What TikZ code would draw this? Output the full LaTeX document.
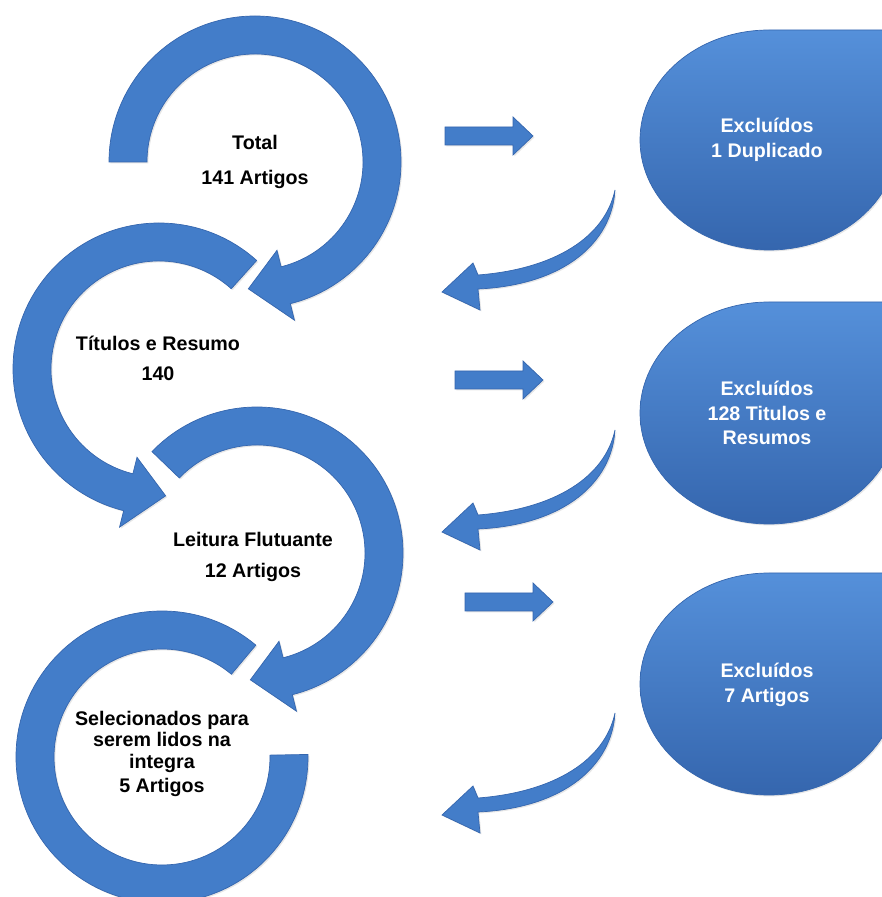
\documentclass[tikz,border=0pt]{standalone}
\usepackage{fontspec}
\setmainfont{Liberation Sans}
\usetikzlibrary{shadows}
\definecolor{artblue}{HTML}{437DC9}
\definecolor{artdark}{HTML}{3566AE}
\definecolor{artlight}{HTML}{5590DA}
\tikzset{
bluefill/.style = {fill = artblue, draw = artdark, line width = 0.4pt, drop shadow = {opacity = 0.2, shadow xshift = 0.8pt, shadow yshift = -0.8pt}},
blobfill/.style = {top color = artlight, bottom color = artdark, draw = artdark, line width = 0.4pt, drop shadow = {opacity = 0.2, shadow xshift = 0.8pt, shadow yshift = -0.8pt}},
ringtext/.style = {font = \fontsize{11.2}{12.2}\selectfont\bfseries, align = center, text = black},
blobtext/.style = {font = \fontsize{11.2}{14}\selectfont\bfseries, align = center, text = white}
}
\newcommand{\ringarrow}[4]{%
\path [bluefill] ([shift={#1}]#2:146) arc [start angle = #2, end angle = #3, radius = 146] -- ([shift={#1}]#3:163) -- ([shift={#1}]#4:127) -- ([shift={#1}]#3:91) -- ([shift={#1}]#3:108) arc [start angle = #3, end angle = #2, radius = 108] -- cycle;
}
\begin{document}
\begin{tikzpicture}[x = 0.02cm, y = 0.02cm]
\useasboundingbox (0,0) rectangle (882,897);
\clip (0,0) rectangle (882,897);
\ringarrow{(255,735)}{180}{-76}{-93}
\ringarrow{(159,528)}{48}{256}{273}
\ringarrow{(257,344)}{136}{-76}{-93}
\path [bluefill] ([shift={(162,140)}]50:146) arc [start angle = 50, end angle = 361, radius = 146] -- ([shift={(162,140)}]361:108) arc [start angle = 361, end angle = 50, radius = 108] -- cycle;
\foreach \x/\y in {445/761, 455/517, 465/295}{
\path [bluefill] (\x,\y-9) -- (\x+68,\y-9) -- (\x+68,\y-19) -- (\x+88,\y) -- (\x+68,\y+19) -- (\x+68,\y+9) -- (\x,\y+9) -- cycle;
}
\foreach \dy in {0,240,523}{
\path [bluefill, shift = {(0,-\dy)}] (615,707) .. controls (605,660) and (555,628) .. (478,622) -- (473,634) -- (442,605) -- (480,587) -- (478,608) .. controls (565,612) and (612,655) .. (615,707) -- cycle;
}
\foreach \cy/\ry in {757/110, 484/111, 213/111}{
\path [blobfill] (898,\cy) -- (898,\cy+\ry) -- (769,\cy+\ry) arc [start angle = 90, end angle = 360, x radius = 129, y radius = \ry] -- cycle;
}
\node [ringtext] (total) at (255,735) {Total\\[7.6pt]141 Artigos};
\node [ringtext] (titulos) at (158,539) {Títulos e Resumo\\[5pt]140};
\node [ringtext] (leitura) at (253,340) {Leitura Flutuante\\[5pt]12 Artigos};
\node [ringtext] (selecionados) at (162,143) {Selecionados para\\serem lidos na\\integra\\[2pt]5 Artigos};
\node [blobtext] (excluidosA) at (767,757) {Excluídos\\1 Duplicado};
\node [blobtext] (excluidosB) at (767,484) {Excluídos\\128 Titulos e\\Resumos};
\node [blobtext] (excluidosC) at (767,212) {Excluídos\\7 Artigos};
\end{tikzpicture}
\end{document}
